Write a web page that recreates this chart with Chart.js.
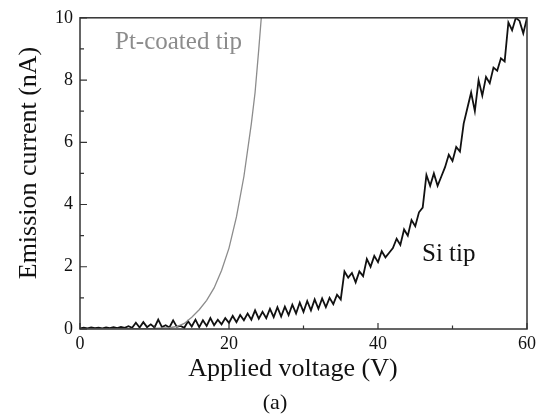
<!DOCTYPE html>
<html>
<head>
<meta charset="utf-8">
<script src="https://cdn.jsdelivr.net/npm/chart.js@4.4.1/dist/chart.umd.min.js"></script>
<style>
  html, body { margin: 0; padding: 0; background: #fff; }
  #wrap { width: 554px; height: 419px; }
</style>
</head>
<body>
<div id="wrap"><canvas id="emissionChart" width="554" height="419"></canvas></div>
<script>
// Pt-coated tip
const ptVoltage = [0, 5, 10, 12, 13, 14, 15, 16, 17, 18, 19, 20, 21, 22, 23, 23.5, 24, 24.4];
const ptCurrent = [0, 0.01, 0.02, 0.04, 0.08, 0.18, 0.38, 0.62, 0.92, 1.32, 1.88, 2.6, 3.6, 4.9, 6.6, 7.6, 9.0, 10.2];

// Si tip, sampled every 0.5 V from 0 to 60 V
const siStep = 0.5;
const siCurrent = [
    0.02, 0.04, 0.02, 0.05, 0.03, 0.04, 0.02, 0.05, 0.03, 0.06,
    0.03, 0.07, 0.04, 0.09, 0.04, 0.20, 0.05, 0.22, 0.06, 0.15,
    0.05, 0.30, 0.06, 0.12, 0.05, 0.28, 0.07, 0.10, 0.04, 0.25,
    0.08, 0.30, 0.06, 0.28, 0.10, 0.35, 0.12, 0.30, 0.15, 0.35,
    0.20, 0.42, 0.22, 0.45, 0.28, 0.50, 0.30, 0.60, 0.33, 0.55,
    0.35, 0.65, 0.38, 0.70, 0.40, 0.72, 0.45, 0.78, 0.50, 0.85,
    0.55, 0.90, 0.60, 0.95, 0.65, 0.98, 0.70, 1.00, 0.80, 1.10,
    0.95, 1.85, 1.65, 1.80, 1.50, 1.85, 1.70, 2.25, 2.00, 2.35,
    2.15, 2.50, 2.30, 2.45, 2.60, 2.90, 2.70, 3.20, 3.00, 3.50,
    3.30, 3.75, 3.90, 4.95, 4.60, 5.00, 4.60, 4.90, 5.20, 5.60,
    5.40, 5.85, 5.70, 6.60, 7.10, 7.60, 7.00, 8.00, 7.50, 8.10,
    7.90, 8.40, 8.30, 8.70, 8.60, 9.85, 9.60, 10.0, 9.90, 9.50,
    10.0
];

const xTicks = [0, 20, 40, 60];
const xMinorTicks = [10, 30, 50];
const yTicks = [0, 2, 4, 6, 8, 10];
const yMinorTicks = [1, 3, 5, 7, 9];

const serif = "'Liberation Serif', 'Times New Roman', serif";

function toPoints(xs, ys) {
    return ys.map(function (y, i) { return { x: xs[i], y: y }; });
}

const siPoints = siCurrent.map(function (y, i) { return { x: i * siStep, y: y }; });

// frame, inward ticks and the free text labels
const decorations = {
    id: "decorations",
    afterDatasetsDraw: function (chart) {
        const ctx = chart.ctx;
        const area = chart.chartArea;
        const xs = chart.scales.x;
        const ys = chart.scales.y;
        ctx.save();
        ctx.strokeStyle = "#333";
        ctx.lineWidth = 1.5;
        ctx.strokeRect(area.left, area.top, area.right - area.left, area.bottom - area.top);

        ctx.lineWidth = 1.2;
        ctx.beginPath();
        xTicks.forEach(function (v) {
            const px = xs.getPixelForValue(v);
            ctx.moveTo(px, area.bottom);
            ctx.lineTo(px, area.bottom - 6);
        });
        xMinorTicks.forEach(function (v) {
            const px = xs.getPixelForValue(v);
            ctx.moveTo(px, area.bottom);
            ctx.lineTo(px, area.bottom - 3.5);
        });
        yTicks.forEach(function (v) {
            const py = ys.getPixelForValue(v);
            ctx.moveTo(area.left, py);
            ctx.lineTo(area.left + 7, py);
        });
        yMinorTicks.forEach(function (v) {
            const py = ys.getPixelForValue(v);
            ctx.moveTo(area.left, py);
            ctx.lineTo(area.left + 4, py);
        });
        ctx.stroke();

        ctx.fillStyle = "#111";
        ctx.font = "26px " + serif;
        ctx.textAlign = "center";
        ctx.textBaseline = "middle";
        ctx.fillText("Applied voltage (V)", 293, 369);

        ctx.save();
        ctx.translate(29, 163);
        ctx.rotate(-Math.PI / 2);
        ctx.fillText("Emission current (nA)", 0, 0);
        ctx.restore();

        ctx.font = "22px " + serif;
        ctx.fillText("(a)", 275, 403);

        ctx.textAlign = "left";
        ctx.textBaseline = "alphabetic";
        ctx.font = "25px " + serif;
        ctx.fillText("Si tip", 422, 261);
        ctx.fillStyle = "#8c8c8c";
        ctx.fillText("Pt-coated tip", 115, 49);
        ctx.restore();
    }
};

new Chart(document.getElementById("emissionChart"), {
    type: "scatter",
    data: {
        datasets: [
            {
                label: "Pt-coated tip",
                data: toPoints(ptVoltage, ptCurrent),
                showLine: true,
                borderColor: "#8c8c8c",
                borderWidth: 1.3,
                pointRadius: 0,
                tension: 0,
            },
            {
                label: "Si tip",
                data: siPoints,
                showLine: true,
                borderColor: "#111",
                borderWidth: 1.8,
                pointRadius: 0,
                tension: 0,
            },
        ],
    },
    options: {
        responsive: false,
        animation: false,
        layout: {
            padding: { left: 0, top: 15, right: 27, bottom: 0 },
        },
        plugins: {
            legend: { display: false },
            tooltip: { enabled: false },
        },
        scales: {
            x: {
                type: "linear",
                min: 0,
                max: 60,
                grid: { display: false, drawTicks: false },
                border: { display: false },
                afterFit: function (scale) { scale.height = 90; },
                ticks: {
                    stepSize: 20,
                    padding: 4,
                    color: "#111",
                    font: { family: serif, size: 18 },
                    maxRotation: 0,
                },
            },
            y: {
                min: 0,
                max: 10,
                grid: { display: false, drawTicks: false },
                border: { display: false },
                afterFit: function (scale) { scale.width = 80; },
                ticks: {
                    stepSize: 2,
                    padding: 7,
                    color: "#111",
                    font: { family: serif, size: 18 },
                },
            },
        },
    },
    plugins: [decorations],
});
</script>
</body>
</html>
